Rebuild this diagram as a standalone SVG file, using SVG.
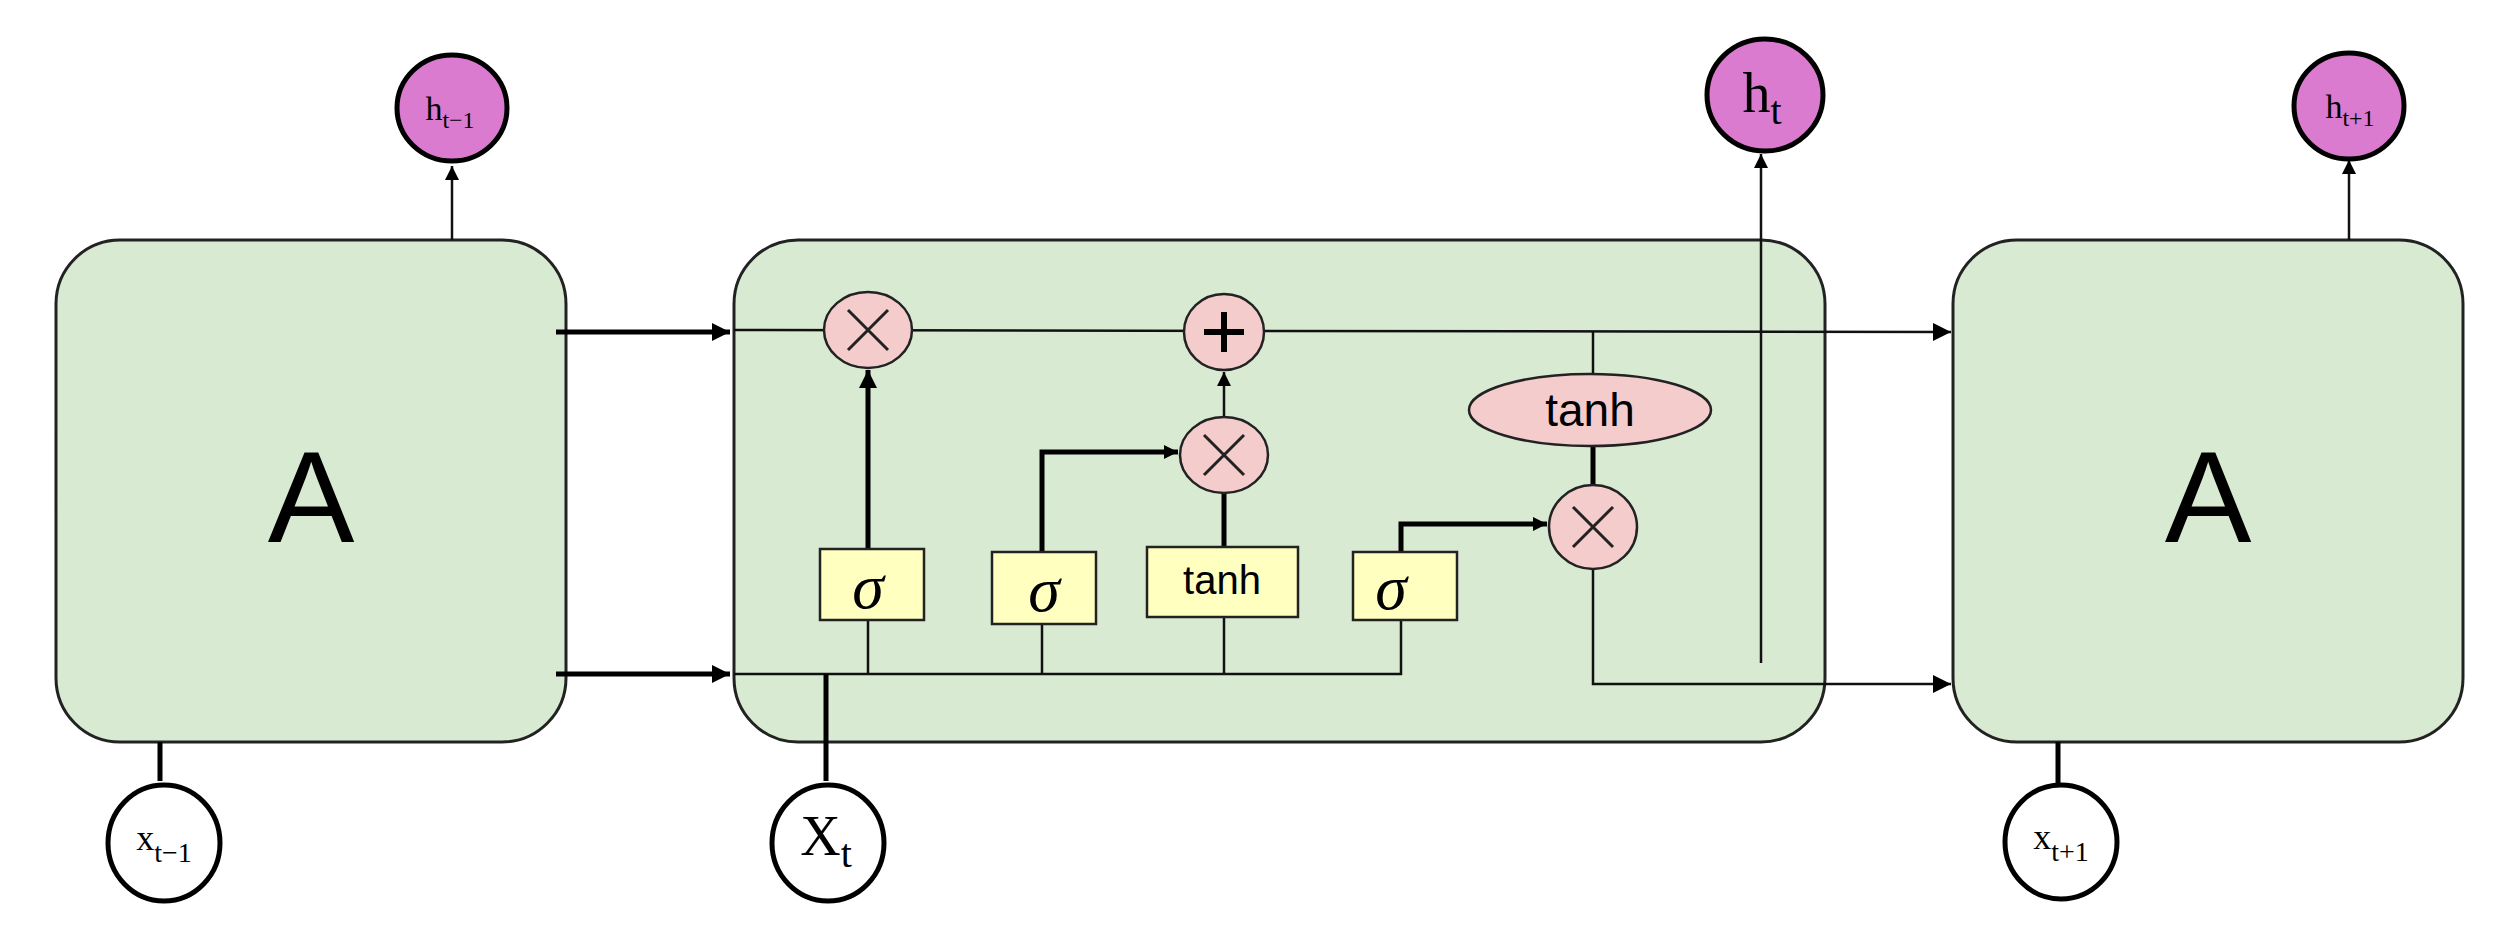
<svg xmlns="http://www.w3.org/2000/svg" width="2506" height="933" viewBox="0 0 2506 933">
<style>
.box{fill:#d9ead3;stroke:#222;stroke-width:3}
.op{fill:#f4cccc;stroke:#222;stroke-width:2.5}
.gate{fill:#ffffc0;stroke:#222;stroke-width:2.5}
.out{fill:#da7bd0;stroke:#000;stroke-width:5}
.in{fill:#fff;stroke:#000;stroke-width:5}
.ln{fill:none;stroke:#111;stroke-width:2.5}
.thk{fill:none;stroke:#000;stroke-width:5}
.x{stroke:#222;stroke-width:3}
.A{font-family:"Liberation Sans",Arial,sans-serif;font-size:130px;text-anchor:middle}
.s{font-family:"Liberation Serif","Times New Roman",serif;text-anchor:middle}
.t{font-family:"Liberation Sans",Arial,sans-serif;text-anchor:middle}
</style>
<defs>
<marker id="ar" viewBox="0 0 10 10" refX="10" refY="5" markerWidth="6" markerHeight="6" orient="auto" markerUnits="userSpaceOnUse"><path d="M0,0L10,5L0,10z" fill="#000"/></marker>
<marker id="arb" viewBox="0 0 10 10" refX="10" refY="5" markerWidth="18" markerHeight="18" orient="auto" markerUnits="userSpaceOnUse"><path d="M0,0L10,5L0,10z" fill="#000"/></marker>
<marker id="arm" viewBox="0 0 10 10" refX="10" refY="5" markerWidth="14" markerHeight="14" orient="auto" markerUnits="userSpaceOnUse"><path d="M0,0L10,5L0,10z" fill="#000"/></marker>
</defs>
<g id="boxA1"><rect class="box" x="56" y="240" width="510" height="502" rx="64"/><text class="A" x="311" y="542">A</text></g>
<g id="cell"><rect class="box" x="734" y="240" width="1091" height="502" rx="64"/></g>
<g id="boxA2"><rect class="box" x="1953" y="240" width="510" height="502" rx="64"/><text class="A" x="2208" y="542">A</text></g>
<g id="connectors">
<line class="ln" x1="452" y1="240" x2="452" y2="166" marker-end="url(#arm)"/>
<line class="ln" x1="2349" y1="240" x2="2349" y2="160" marker-end="url(#arm)"/>
<line class="ln" x1="1761" y1="663" x2="1761" y2="154" marker-end="url(#arm)"/>
<line class="thk" x1="160" y1="742" x2="160" y2="781"/>
<line class="thk" x1="2058" y1="742" x2="2058" y2="783"/>
<line class="thk" x1="556" y1="332" x2="730" y2="332" marker-end="url(#arb)"/>
<line class="thk" x1="556" y1="674" x2="730" y2="674" marker-end="url(#arb)"/>
<line class="ln" x1="734" y1="330" x2="1951" y2="332" marker-end="url(#arb)"/>
<polyline class="ln" points="734,674 1401,674 1401,620"/>
<line class="thk" x1="826" y1="674" x2="826" y2="781"/>
<line class="ln" x1="868" y1="674" x2="868" y2="620"/>
<line class="ln" x1="1042" y1="674" x2="1042" y2="624"/>
<line class="ln" x1="1224" y1="674" x2="1224" y2="617"/>
<line class="thk" x1="868" y1="549" x2="868" y2="370" marker-end="url(#arb)"/>
<polyline class="thk" points="1042,552 1042,452 1178,452" marker-end="url(#arm)"/>
<line class="thk" x1="1224" y1="547" x2="1224" y2="494"/>
<line class="ln" x1="1224" y1="418" x2="1224" y2="372" marker-end="url(#arm)"/>
<polyline class="thk" points="1401,552 1401,524 1547,524" marker-end="url(#arm)"/>
<line class="ln" x1="1593" y1="332" x2="1593" y2="374"/>
<line class="thk" x1="1593" y1="446" x2="1593" y2="486"/>
<polyline class="ln" points="1593,568 1593,684 1951,684" marker-end="url(#arb)"/>
</g>
<g id="mul1"><ellipse class="op" cx="868" cy="330" rx="44" ry="38"/><path class="x" d="M848,310L888,350M888,310L848,350"/></g>
<g id="add"><ellipse class="op" cx="1224" cy="332" rx="40" ry="38"/><path d="M1204,332H1244M1224,312V352" stroke="#000" stroke-width="6"/></g>
<g id="mul2"><ellipse class="op" cx="1224" cy="455" rx="44" ry="38"/><path class="x" d="M1204,435L1244,475M1244,435L1204,475"/></g>
<g id="mul3"><ellipse class="op" cx="1593" cy="527" rx="44" ry="42"/><path class="x" d="M1573,507L1613,547M1613,507L1573,547"/></g>
<g id="tanh2"><ellipse class="op" cx="1590" cy="410" rx="121" ry="36"/><text class="t" x="1590" y="426" font-size="46">tanh</text></g>
<g id="sig1"><rect class="gate" x="820" y="549" width="104" height="71"/><text class="s" x="868" y="608" font-size="64" font-style="italic">σ</text></g>
<g id="sig2"><rect class="gate" x="992" y="552" width="104" height="72"/><text class="s" x="1044" y="611" font-size="64" font-style="italic">σ</text></g>
<g id="tanh1"><rect class="gate" x="1147" y="547" width="151" height="70"/><text class="t" x="1222" y="594" font-size="40">tanh</text></g>
<g id="sig3"><rect class="gate" x="1353" y="552" width="104" height="68"/><text class="s" x="1391" y="609" font-size="64" font-style="italic">σ</text></g>
<g id="ht1"><ellipse class="out" cx="452" cy="108" rx="55" ry="53"/><text class="s" x="450" y="120" font-size="34">h<tspan font-size="24" dy="8">t−1</tspan></text></g>
<g id="ht"><ellipse class="out" cx="1765" cy="95" rx="58" ry="56"/><text class="s" x="1762" y="112" font-size="56">h<tspan font-size="40" dy="12">t</tspan></text></g>
<g id="ht2"><ellipse class="out" cx="2349" cy="106" rx="55" ry="53"/><text class="s" x="2350" y="118" font-size="34">h<tspan font-size="24" dy="8">t+1</tspan></text></g>
<g id="xt1"><ellipse class="in" cx="164" cy="843" rx="56" ry="58"/><text class="s" x="164" y="850" font-size="36">x<tspan font-size="28" dy="12">t−1</tspan></text></g>
<g id="xt"><ellipse class="in" cx="828" cy="843" rx="56" ry="58"/><text class="s" x="826" y="855" font-size="56">X<tspan font-size="40" dy="12">t</tspan></text></g>
<g id="xt2"><ellipse class="in" cx="2061" cy="842" rx="56" ry="57"/><text class="s" x="2061" y="849" font-size="36">x<tspan font-size="28" dy="12">t+1</tspan></text></g>
</svg>
